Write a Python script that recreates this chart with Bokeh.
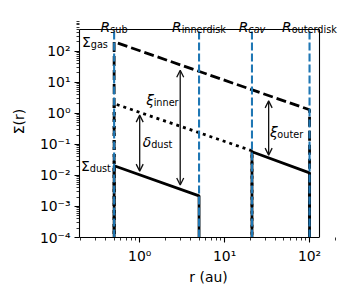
import math
from bokeh.plotting import figure
from bokeh.models import (Range1d, FixedTicker, CustomJSTickFormatter, Label,
                          Arrow, OpenHead, ColumnDataSource)
from bokeh.embed import file_html
from bokeh.resources import INLINE

# ---------------- data ----------------
R_SUB = 0.5
R_INNERDISK = 5.0
R_CAV = 21.0
R_OUTERDISK = 100.0
radii = [R_SUB, R_INNERDISK, R_CAV, R_OUTERDISK]
radius_subs = ["sub", "innerdisk", "cav", "outerdisk"]

gas_r = [R_SUB, R_OUTERDISK]
gas_sigma = [200.0, 1.3]
undepleted_r = [R_SUB, R_CAV]
undepleted_sigma = [2.05, 0.062]
dust_inner_r = [R_SUB, R_INNERDISK]
dust_inner_sigma = [0.0204, 0.0022]
dust_outer_r = [R_CAV, R_OUTERDISK]
dust_outer_sigma = [0.0577, 0.0121]

arrow_r = [3.0, 1.0, 33.0]
arrow_top = [24.5, 0.875, 2.52]
arrow_bottom = [0.0049, 0.0137, 0.045]

x_ticks = [1, 10, 100]
x_tick_labels = ["10\u2070", "10\u00b9", "10\u00b2"]
y_ticks = [1e-4, 1e-3, 1e-2, 1e-1, 1, 10, 100]
y_tick_labels = ["10\u207b\u2074", "10\u207b\u00b3", "10\u207b\u00b2", "10\u207b\u00b9",
                 "10\u2070", "10\u00b9", "10\u00b2"]

# axes box limits
X_MIN, X_MAX = 0.1955, 131.0
Y_MIN, Y_MAX = 1e-4, 500.0
FLOOR = 1e-12  # value used for the vertical drops below the axis

# ---------------- layout ----------------
BOX_W, BOX_H = 240, 208          # axes box in px
PAD_TOP, PAD_RIGHT = 24, 18      # frame extends beyond the box so the labels above it show
LEFT, TOP, BOTTOM = 79, 5, 55
W, H = 342, 292
px_dec_y = BOX_H / math.log10(Y_MAX / Y_MIN)
px_dec_x = BOX_W / math.log10(X_MAX / X_MIN)
Y_FRAME_TOP = Y_MAX * 10 ** (PAD_TOP / px_dec_y)
X_FRAME_RIGHT = X_MAX * 10 ** (PAD_RIGHT / px_dec_x)

FONT = "DejaVu Sans"
FS = 13.9
FS_SUB = 9.7
SUB_DROP = 2.6
BLUE = "#1f77b4"

p = figure(width=W, height=H, x_axis_type="log", y_axis_type="log",
           x_range=Range1d(X_MIN, X_FRAME_RIGHT), y_range=Range1d(Y_MIN, Y_FRAME_TOP),
           min_border_left=LEFT, min_border_right=W - LEFT - BOX_W - PAD_RIGHT,
           min_border_top=TOP, min_border_bottom=BOTTOM,
           output_backend="svg", toolbar_location=None)
p.background_fill_color = "white"
p.border_fill_color = "white"
p.xgrid.visible = False
p.ygrid.visible = False
p.outline_line_color = None


def step(rs, ss):
    return [rs[0], rs[0], rs[1], rs[1]], [FLOOR, ss[0], ss[1], FLOOR]


gx, gy = step(gas_r, gas_sigma)
p.line(gx, gy, line_color="black", line_width=2.8, line_dash="10 4")
ux, uy = step(undepleted_r, undepleted_sigma)
p.line(ux, uy, line_color="black", line_width=2.8, line_dash="3 4")
dx_, dy_ = step(dust_inner_r, dust_inner_sigma)
p.line(dx_, dy_, line_color="black", line_width=2.8)
ox, oy = step(dust_outer_r, dust_outer_sigma)
p.line(ox, oy, line_color="black", line_width=2.8)

# vertical radius markers (full height of the axes box)
p.segment(x0=radii, y0=[Y_MIN] * len(radii), x1=radii, y1=[Y_MAX] * len(radii),
          line_color=BLUE, line_width=2.1, line_dash="8 3")

# top and right spines of the axes box
p.segment(x0=[X_MIN, X_MAX], y0=[Y_MAX, Y_MIN], x1=[X_MAX, X_MAX], y1=[Y_MAX, Y_MAX],
          line_color="black", line_width=1.1)

src = ColumnDataSource(dict(x=arrow_r, top=arrow_top, bottom=arrow_bottom))
p.add_layout(Arrow(source=src, x_start="x", y_start="top", x_end="x", y_end="bottom",
                   line_color="#111111", line_width=1.3,
                   start=OpenHead(size=7, line_color="#111111", line_width=1.3),
                   end=OpenHead(size=7, line_color="#111111", line_width=1.3)))

# ---------------- axes ----------------
def fmt(vals, labs):
    return CustomJSTickFormatter(args=dict(vals=vals, labs=labs), code="""
        let best = 0, bd = Infinity;
        for (let i = 0; i < vals.length; i++) {
            const d = Math.abs(Math.log10(tick) - Math.log10(vals[i]));
            if (d < bd) { bd = d; best = i; }
        }
        return labs[best];
    """)

x_minor = [k * 10.0 ** e for e in range(-1, 3) for k in range(2, 10)]
y_minor = [k * 10.0 ** e for e in range(-5, 3) for k in range(2, 10)]
p.xaxis.ticker = FixedTicker(ticks=x_ticks, minor_ticks=x_minor)
p.yaxis.ticker = FixedTicker(ticks=y_ticks, minor_ticks=y_minor)
p.xaxis.formatter = fmt(x_ticks, x_tick_labels)
p.yaxis.formatter = fmt(y_ticks, y_tick_labels)
p.xaxis.bounds = (X_MIN, X_MAX)
p.yaxis.bounds = (Y_MIN, Y_MAX)

for ax in (p.xaxis[0], p.yaxis[0]):
    ax.axis_line_color = "black"
    ax.axis_line_width = 1.1
    ax.major_tick_line_color = "black"
    ax.major_tick_line_width = 1.1
    ax.minor_tick_line_color = "black"
    ax.minor_tick_line_width = 0.8
    ax.major_tick_in = 0
    ax.major_tick_out = 5
    ax.minor_tick_in = 0
    ax.minor_tick_out = 3
    ax.major_label_text_font = FONT
    ax.major_label_text_font_size = f"{FS}px"
    ax.major_label_text_color = "black"
    ax.axis_label_text_font = FONT
    ax.axis_label_text_font_size = f"{FS}px"
    ax.axis_label_text_font_style = "normal"
    ax.axis_label_text_color = "black"

p.xaxis.axis_label = "r (au)"
p.yaxis.axis_label = "\u03a3(r)"
p.xaxis.major_label_standoff = 5
p.yaxis.major_label_standoff = 4
p.xaxis.axis_label_standoff = 2
p.yaxis.axis_label_standoff = 10

# ---------------- texts ----------------
ADV = {"R": 0.695, "\u03a3": 0.631, "\u03be": 0.53, "\u03b4": 0.612,
       "a": 0.613, "b": 0.635, "c": 0.550, "d": 0.635, "e": 0.615, "g": 0.635,
       "i": 0.278, "k": 0.579, "n": 0.634, "o": 0.612, "r": 0.411, "s": 0.521,
       "t": 0.392, "u": 0.634, "v": 0.592}


def tw(s, size):
    return sum(ADV.get(c, 0.6) for c in s) * size


def sub_label(x, y, main, sub, anchor, dx, dy, main_style="normal", sub_style="normal"):
    mw = tw(main, FS)
    total = mw + tw(sub, FS_SUB)
    if anchor == "left":
        left = dx
    elif anchor == "center":
        left = dx - total / 2
    else:
        left = dx - total
    for txt, off, yo, size, style in ((main, left, dy, FS, main_style),
                                      (sub, left + mw, dy - SUB_DROP, FS_SUB, sub_style)):
        p.add_layout(Label(x=x, y=y, x_offset=off, y_offset=yo, text=txt,
                           text_align="left", text_baseline="alphabetic", text_font=FONT,
                           text_font_size=f"{size}px", text_font_style=style,
                           text_color="black"))


for r, s in zip(radii, radius_subs):
    sub_label(r, Y_MAX, "R", s, "center", 0, 2.6, "italic",
              "italic" if s == "cav" else "normal")

sub_label(X_MIN, 200.0, "\u03a3", "gas", "left", 2.5, 0)
sub_label(X_MIN, 0.02, "\u03a3", "dust", "left", 1.5, 0)
sub_label(arrow_r[0], 2.7, "\u03be", "inner", "right", -1.6, 0, "italic")
sub_label(arrow_r[1], 0.121, "\u03b4", "dust", "left", 3.0, 0, "italic")
sub_label(arrow_r[2], 0.258, "\u03be", "outer", "left", 1.3, 0, "italic")

with open("out.html", "w", encoding="utf-8") as f:
    f.write(file_html(p, INLINE))
